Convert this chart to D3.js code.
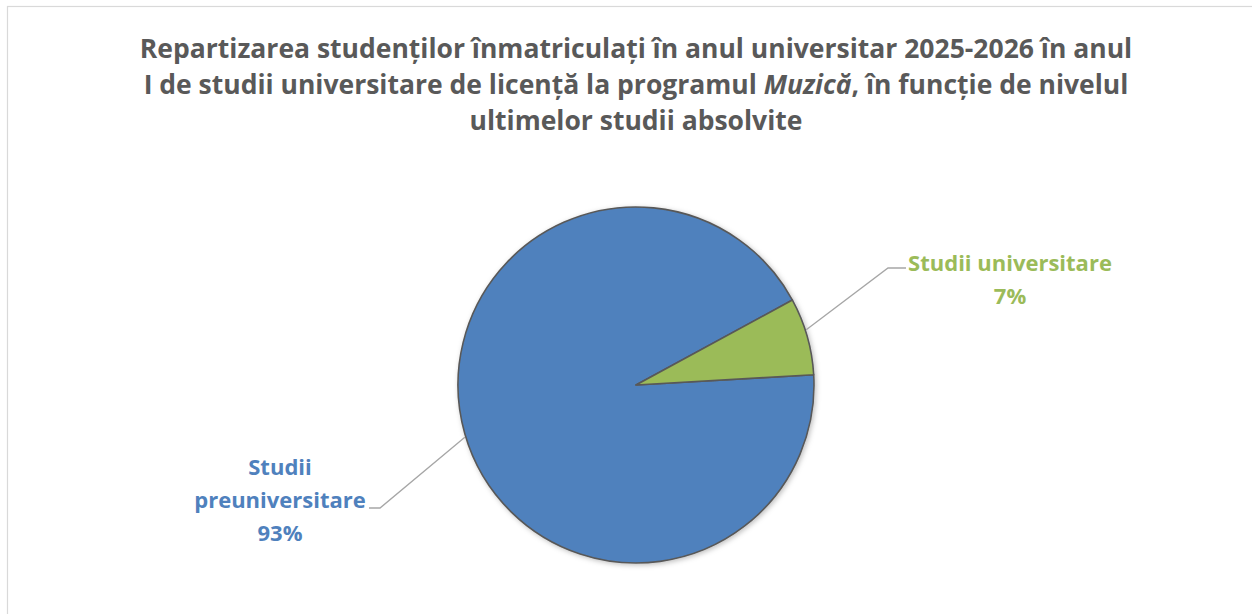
<!DOCTYPE html>
<html>
<head>
<meta charset="utf-8">
<script src="https://cdn.jsdelivr.net/npm/d3@7"></script>
<style>
  body { margin: 0; background: #fff; }
  text { font-family: "Open Sans", Lato, sans-serif; font-weight: bold; }
</style>
</head>
<body>
<div id="chart"></div>
<script>
// chart data
var categories = ["Studii preuniversitare", "Studii universitare"];
var values = [93, 7];
var labelLines = [["Studii", "preuniversitare", "93%"], ["Studii universitare", "7%"]];
var colors = ["#4F81BD", "#9BBB59"];
var titleLines = [
  ["Repartizarea studenților înmatriculați în anul universitar 2025-2026 în anul"],
  ["I de studii universitare de licență la programul ", "Muzică", ", în funcție de nivelul"],
  ["ultimelor studii absolvite"]
];

var width = 1252, height = 614;
var svg = d3.select('#chart').append('svg')
  .attr('width', width)
  .attr('height', height);

// chart border
svg.append('rect')
  .attr('x', 7.5).attr('y', 6.5)
  .attr('width', width + 20).attr('height', height + 20)
  .attr('fill', 'none')
  .attr('stroke', '#d9d9d9')
  .attr('stroke-width', 1.2);

var defs = svg.append('defs');
var shadow = defs.append('filter').attr('id', 'shadow')
  .attr('x', '-20%').attr('y', '-20%').attr('width', '140%').attr('height', '140%');
shadow.append('feDropShadow')
  .attr('dx', 1.5).attr('dy', 1.5).attr('stdDeviation', 2.5)
  .attr('flood-color', '#000').attr('flood-opacity', 0.25);

// title
var title = svg.append('text')
  .attr('text-anchor', 'middle')
  .attr('fill', '#595959')
  .style('font-size', '26.5px');
titleLines.forEach(function(parts, i) {
  var line = title.append('tspan').attr('x', 636).attr('y', 58 + i * 36);
  parts.forEach(function(p, j) {
    line.append('tspan').text(p)
      .style('font-style', (i == 1 && j == 1) ? 'italic' : null);
  });
});

var cx = 636, cy = 385, r = 178;

var pie = d3.pie().sort(null)
  .startAngle(86.7 * Math.PI / 180)
  .endAngle(86.7 * Math.PI / 180 + 2 * Math.PI);
var arcs = pie(values);
var arc = d3.arc().innerRadius(0).outerRadius(r);

var g = svg.append('g').attr('transform', 'translate(' + cx + ',' + cy + ')');

g.append('g').attr('filter', 'url(#shadow)')
  .selectAll('path')
  .data(arcs)
  .enter().append('path')
  .attr('d', arc)
  .attr('fill', function(d, i) { return colors[i]; })
  .attr('stroke', '#595959')
  .attr('stroke-width', 1.6)
  .attr('stroke-linejoin', 'round');

// leader lines and labels
var labelPos = [
  { x: 280, y: 475, angle: 253, elbow: [380, 508], end: [369, 508] },
  { x: 1010, y: 271, angle: 72, elbow: [888, 268], end: [906, 268] }
];

arcs.forEach(function(d, i) {
  var p = labelPos[i];
  var a = p.angle * Math.PI / 180;
  var sx = cx + Math.sin(a) * (r + 1), sy = cy - Math.cos(a) * (r + 1);
  svg.append('polyline')
    .attr('points', [[sx, sy], p.elbow, p.end].map(function(q) { return q.join(','); }).join(' '))
    .attr('fill', 'none')
    .attr('stroke', '#a6a6a6')
    .attr('stroke-width', 1.3);

  var t = svg.append('text')
    .attr('text-anchor', 'middle')
    .attr('fill', colors[i])
    .style('font-size', '22px');
  labelLines[i].forEach(function(l, k) {
    t.append('tspan').attr('x', p.x).attr('y', p.y + k * 33).text(l);
  });
});
</script>
</body>
</html>
